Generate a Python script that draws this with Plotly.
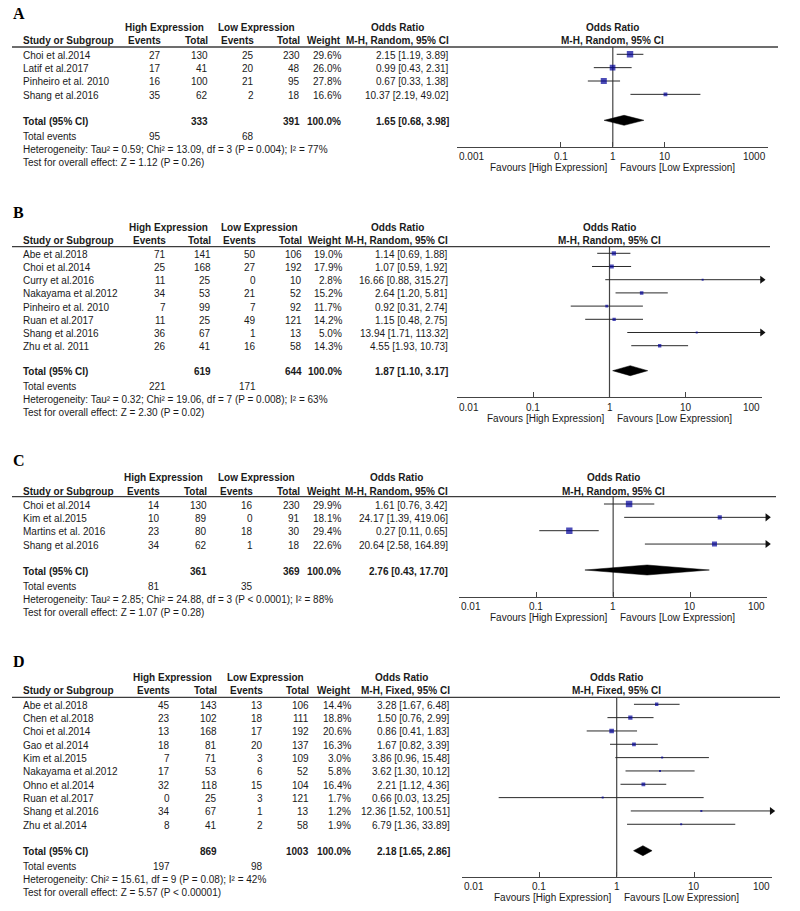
import plotly.graph_objects as go
import math

# ---------------- DATA ----------------
# Panel A
A_studies = ["Choi et al.2014", "Latif et al.2017", "Pinheiro et al. 2010", "Shang et al.2016"]
A_high_events = [27, 17, 16, 35]
A_high_total = [130, 41, 100, 62]
A_low_events = [25, 20, 21, 2]
A_low_total = [230, 48, 95, 18]
A_weight = [29.6, 26.0, 27.8, 16.6]
A_or = [2.15, 0.99, 0.67, 10.37]
A_lo = [1.19, 0.43, 0.33, 2.19]
A_hi = [3.89, 2.31, 1.38, 49.02]
A_total = [333, 391]
A_total_events = [95, 68]
A_pooled = [1.65, 0.68, 3.98]
A_het = "Heterogeneity: Tau² = 0.59; Chi² = 13.09, df = 3 (P = 0.004); I² = 77%"
A_test = "Test for overall effect: Z = 1.12 (P = 0.26)"
A_method = "M-H, Random, 95% CI"
A_ticks = [0.001, 0.1, 1, 10, 1000]
A_tick_labels = ["0.001", "0.1", "1", "10", "1000"]

# Panel B
B_studies = ["Abe et al.2018", "Choi et al.2014", "Curry et al.2016", "Nakayama et al.2012",
             "Pinheiro et al. 2010", "Ruan et al.2017", "Shang et al.2016", "Zhu et al. 2011"]
B_high_events = [71, 25, 11, 34, 7, 11, 36, 26]
B_high_total = [141, 168, 25, 53, 99, 25, 67, 41]
B_low_events = [50, 27, 0, 21, 7, 49, 1, 16]
B_low_total = [106, 192, 10, 52, 92, 121, 13, 58]
B_weight = [19.0, 17.9, 2.8, 15.2, 11.7, 14.2, 5.0, 14.3]
B_or = [1.14, 1.07, 16.66, 2.64, 0.92, 1.15, 13.94, 4.55]
B_lo = [0.69, 0.59, 0.88, 1.20, 0.31, 0.48, 1.71, 1.93]
B_hi = [1.88, 1.92, 315.27, 5.81, 2.74, 2.75, 113.32, 10.73]
B_total = [619, 644]
B_total_events = [221, 171]
B_pooled = [1.87, 1.10, 3.17]
B_het = "Heterogeneity: Tau² = 0.32; Chi² = 19.06, df = 7 (P = 0.008); I² = 63%"
B_test = "Test for overall effect: Z = 2.30 (P = 0.02)"
B_method = "M-H, Random, 95% CI"
B_ticks = [0.01, 0.1, 1, 10, 100]
B_tick_labels = ["0.01", "0.1", "1", "10", "100"]

# Panel C
C_studies = ["Choi et al.2014", "Kim et al.2015", "Martins et al. 2016", "Shang et al.2016"]
C_high_events = [14, 10, 23, 34]
C_high_total = [130, 89, 80, 62]
C_low_events = [16, 0, 18, 1]
C_low_total = [230, 91, 30, 18]
C_weight = [29.9, 18.1, 29.4, 22.6]
C_or = [1.61, 24.17, 0.27, 20.64]
C_lo = [0.76, 1.39, 0.11, 2.58]
C_hi = [3.42, 419.06, 0.65, 164.89]
C_total = [361, 369]
C_total_events = [81, 35]
C_pooled = [2.76, 0.43, 17.70]
C_het = "Heterogeneity: Tau² = 2.85; Chi² = 24.88, df = 3 (P < 0.0001); I² = 88%"
C_test = "Test for overall effect: Z = 1.07 (P = 0.28)"
C_method = "M-H, Random, 95% CI"
C_ticks = [0.01, 0.1, 1, 10, 100]
C_tick_labels = ["0.01", "0.1", "1", "10", "100"]

# Panel D
D_studies = ["Abe et al.2018", "Chen et al.2018", "Choi et al.2014", "Gao et al.2014", "Kim et al.2015",
             "Nakayama et al.2012", "Ohno et al.2014", "Ruan et al.2017", "Shang et al.2016", "Zhu et al.2014"]
D_high_events = [45, 23, 13, 18, 7, 17, 32, 0, 34, 8]
D_high_total = [143, 102, 168, 81, 71, 53, 118, 25, 67, 41]
D_low_events = [13, 18, 17, 20, 3, 6, 15, 3, 1, 2]
D_low_total = [106, 111, 192, 137, 109, 52, 104, 121, 13, 58]
D_weight = [14.4, 18.8, 20.6, 16.3, 3.0, 5.8, 16.4, 1.7, 1.2, 1.9]
D_or = [3.28, 1.50, 0.86, 1.67, 3.86, 3.62, 2.21, 0.66, 12.36, 6.79]
D_lo = [1.67, 0.76, 0.41, 0.82, 0.96, 1.30, 1.12, 0.03, 1.52, 1.36]
D_hi = [6.48, 2.99, 1.83, 3.39, 15.48, 10.12, 4.36, 13.25, 100.51, 33.89]
D_total = [869, 1003]
D_total_events = [197, 98]
D_pooled = [2.18, 1.65, 2.86]
D_het = "Heterogeneity: Chi² = 15.61, df = 9 (P = 0.08); I² = 42%"
D_test = "Test for overall effect: Z = 5.57 (P < 0.00001)"
D_method = "M-H, Fixed, 95% CI"
D_ticks = [0.01, 0.1, 1, 10, 100]
D_tick_labels = ["0.01", "0.1", "1", "10", "100"]

# ---------------- LAYOUT (pixel positions) ----------------
W, H = 800, 911
SANS = "Liberation Sans, Arial, sans-serif"
SERIF = "Liberation Serif, Times New Roman, serif"
TXT = "#1a1a1a"
BLUE = "#000098"

GEOM = {
    "A": dict(letter=13, h1=27.3, h2=40.7, rule=47, row0=54.3, dy=13.35, total=120.3, tev=136, het=149.3,
              test=163, axis=146.7, x0=457.3, x1=768.3, rule_x1=778,
              cols=(21, 163, 210, 256, 302, 343, 451), grp=(164, 256, 397)),
    "B": dict(letter=212, h1=227.7, h2=240.7, rule=246.7, row0=253.3, dy=13.2, total=370.7, tev=386.7, het=399.3,
              test=412.6, axis=397.3, x0=457, x1=762, rule_x1=770,
              cols=(21, 168, 213, 258, 304, 344, 450), grp=(168, 259, 397)),
    "C": dict(letter=460, h1=477.3, h2=491, rule=496.7, row0=504, dy=13.35, total=570, tev=586, het=599,
              test=612.5, axis=596.7, x0=459, x1=767.3, rule_x1=776,
              cols=(21, 162, 209, 255, 302, 343, 450), grp=(163, 256, 396)),
    "D": dict(letter=661, h1=677.3, h2=690.7, rule=697.3, row0=704.3, dy=13.33, total=850.7, tev=866, het=879.3,
              test=892.7, axis=876.7, x0=461.7, x1=771.7, rule_x1=780,
              cols=(21, 172, 219, 265, 311, 353, 452), grp=(172, 265, 402)),
}

panels = [
    ("A", A_studies, A_high_events, A_high_total, A_low_events, A_low_total, A_weight, A_or, A_lo, A_hi,
     A_total, A_total_events, A_pooled, A_het, A_test, A_method, A_ticks, A_tick_labels),
    ("B", B_studies, B_high_events, B_high_total, B_low_events, B_low_total, B_weight, B_or, B_lo, B_hi,
     B_total, B_total_events, B_pooled, B_het, B_test, B_method, B_ticks, B_tick_labels),
    ("C", C_studies, C_high_events, C_high_total, C_low_events, C_low_total, C_weight, C_or, C_lo, C_hi,
     C_total, C_total_events, C_pooled, C_het, C_test, C_method, C_ticks, C_tick_labels),
    ("D", D_studies, D_high_events, D_high_total, D_low_events, D_low_total, D_weight, D_or, D_lo, D_hi,
     D_total, D_total_events, D_pooled, D_het, D_test, D_method, D_ticks, D_tick_labels),
]

fig = go.Figure()
ann = []
shapes = []


def add_text(x, y, s, anchor="left", bold=False, size=10, family=SANS, color=TXT):
    ann.append(dict(xref="paper", yref="paper", x=x / W, y=1 - y / H,
                    text=f"<b>{s}</b>" if bold else s, showarrow=False, xanchor=anchor,
                    yanchor="middle", font=dict(family=family, size=size, color=color)))


def fmt_ci(o, l, h):
    return f"{o:.2f} [{l:.2f}, {h:.2f}]"


layout_axes = {}
for k, p in enumerate(panels, start=1):
    (name, studies, hev, htot, lev, ltot, wts, ors, los, his,
     tot, tev, pooled, het, test, method, ticks, tick_labels) = p
    G = GEOM[name]
    xa = "x" if k == 1 else f"x{k}"
    ya = "y" if k == 1 else f"y{k}"
    xr = [math.log10(ticks[0]), math.log10(ticks[-1])]
    one_px = G["x0"] + (0 - xr[0]) / (xr[1] - xr[0]) * (G["x1"] - G["x0"])

    # panel letter
    add_text(11, G["letter"], name, bold=True, size=16, family=SERIF, color="#000")

    # headers
    c = G["cols"]
    g = G["grp"]
    add_text(g[0], G["h1"], "High Expression", anchor="center", bold=True)
    add_text(g[1], G["h1"], "Low Expression", anchor="center", bold=True)
    add_text(g[2], G["h1"], "Odds Ratio", anchor="center", bold=True)
    add_text(one_px, G["h1"], "Odds Ratio", anchor="center", bold=True)
    add_text(c[0], G["h2"], "Study or Subgroup", bold=True)
    add_text(c[1], G["h2"], "Events", anchor="right", bold=True)
    add_text(c[2], G["h2"], "Total", anchor="right", bold=True)
    add_text(c[3], G["h2"], "Events", anchor="right", bold=True)
    add_text(c[4], G["h2"], "Total", anchor="right", bold=True)
    add_text(c[5], G["h2"], "Weight", anchor="right", bold=True)
    add_text(c[6], G["h2"], method, anchor="right", bold=True)
    add_text(one_px, G["h2"], method, anchor="center", bold=True)

    shapes.append(dict(type="line", xref="paper", yref="paper", x0=12 / W, x1=G["rule_x1"] / W,
                       y0=1 - G["rule"] / H, y1=1 - G["rule"] / H, line=dict(color="#3c3c3c", width=1.3)))

    # study rows
    ys = [G["row0"] + i * G["dy"] for i in range(len(studies))]
    for i, s in enumerate(studies):
        yt = ys[i] + 1
        add_text(c[0], yt, s)
        add_text(c[1], yt, str(hev[i]), anchor="right")
        add_text(c[2], yt, str(htot[i]), anchor="right")
        add_text(c[3], yt, str(lev[i]), anchor="right")
        add_text(c[4], yt, str(ltot[i]), anchor="right")
        add_text(c[5], yt, f"{wts[i]:.1f}%", anchor="right")
        add_text(c[6], yt, fmt_ci(ors[i], los[i], his[i]), anchor="right")

    # total rows
    yt = G["total"] + 1
    add_text(c[0], yt, "Total (95% CI)", bold=True)
    add_text(c[2], yt, str(tot[0]), anchor="right", bold=True)
    add_text(c[4], yt, str(tot[1]), anchor="right", bold=True)
    add_text(c[5], yt, "100.0%", anchor="right", bold=True)
    add_text(c[6], yt, fmt_ci(*pooled), anchor="right", bold=True)
    add_text(c[0], G["tev"], "Total events")
    add_text(c[1], G["tev"], str(tev[0]), anchor="right")
    add_text(c[3], G["tev"], str(tev[1]), anchor="right")
    add_text(c[0], G["het"], het)
    add_text(c[0], G["test"], test)

    # axis tick labels and favours
    for j, (tv, tl) in enumerate(zip(ticks, tick_labels)):
        anchor = "left" if j == 0 else ("right" if j == len(ticks) - 1 else "center")
        ann.append(dict(xref=xa, yref="paper", x=math.log10(tv), y=1 - (G["axis"] + 10) / H, text=tl,
                        showarrow=False, xanchor=anchor, yanchor="middle",
                        font=dict(family=SANS, size=10, color=TXT)))
    add_text(one_px - 4, G["axis"] + 20.7, "Favours [High Expression]", anchor="right")
    add_text(one_px + 5, G["axis"] + 20.7, "Favours [Low Expression]", anchor="left")

    # plot marks
    fig.add_trace(go.Scatter(x=[1, 1], y=[G["rule"], G["axis"]], mode="lines",
                             line=dict(color="#444", width=1.2), xaxis=xa, yaxis=ya, hoverinfo="skip"))
    cx, cy = [], []
    for i in range(len(studies)):
        cx += [los[i], his[i], None]
        cy += [ys[i], ys[i], None]
    fig.add_trace(go.Scatter(x=cx, y=cy, mode="lines", line=dict(color="#2a2a2a", width=1),
                             xaxis=xa, yaxis=ya, hoverinfo="skip"))
    fig.add_trace(go.Scatter(x=ors, y=ys, mode="markers",
                             marker=dict(symbol="square", size=[max(2.0, 0.2 * w + 0.5) for w in wts],
                                         color=BLUE, line=dict(width=0)),
                             xaxis=xa, yaxis=ya, hoverinfo="skip"))
    arr_y = [ys[i] for i in range(len(studies)) if his[i] > ticks[-1]]
    if arr_y:
        fig.add_trace(go.Scatter(x=[ticks[-1]] * len(arr_y), y=arr_y, mode="markers", cliponaxis=False,
                                 marker=dict(symbol="triangle-right", size=7, color="#111", line=dict(width=0)),
                                 xaxis=xa, yaxis=ya, hoverinfo="skip"))
    yd = G["total"]
    fig.add_trace(go.Scatter(x=[pooled[1], pooled[0], pooled[2], pooled[0], pooled[1]],
                             y=[yd, yd - 5, yd, yd + 5, yd], mode="lines", fill="toself",
                             fillcolor="#000", line=dict(color="#000", width=0.5),
                             xaxis=xa, yaxis=ya, hoverinfo="skip"))

    xkey = "xaxis" if k == 1 else f"xaxis{k}"
    ykey = "yaxis" if k == 1 else f"yaxis{k}"
    layout_axes[xkey] = dict(type="log", range=xr, domain=[G["x0"] / W, G["x1"] / W], anchor=ya,
                             showgrid=False, zeroline=False, showline=True, linecolor="#444", linewidth=1,
                             ticks="inside", ticklen=5, tickcolor="#444", tickvals=ticks,
                             showticklabels=False, fixedrange=True)
    layout_axes[ykey] = dict(range=[G["axis"], G["rule"]], domain=[1 - G["axis"] / H, 1 - G["rule"] / H],
                             anchor=xa, visible=False, showgrid=False, zeroline=False, fixedrange=True)

fig.update_layout(width=W, height=H, margin=dict(l=0, r=0, t=0, b=0), showlegend=False,
                  paper_bgcolor="white", plot_bgcolor="white", annotations=ann, shapes=shapes,
                  **layout_axes)
fig.write_html("out.html", config={"displayModeBar": False},
               post_script="document.body.style.margin='0px';document.body.style.overflow='hidden';")
